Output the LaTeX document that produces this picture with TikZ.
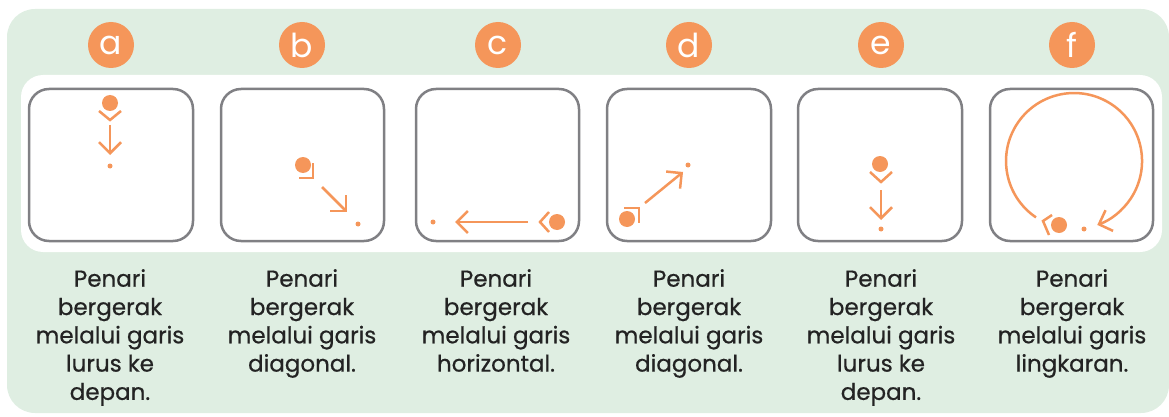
\documentclass[tikz,border=0pt]{standalone}
\usepackage{fontspec}
\setmainfont{Poppins}
\newfontfamily\capfont[FakeBold=0.6]{Poppins}
\usetikzlibrary{arrows.meta}
\definecolor{panelgreen}{RGB}{223,238,226}
\definecolor{dorange}{RGB}{245,150,90}
\definecolor{boxgray}{RGB}{128,128,132}
\definecolor{txt}{RGB}{35,35,35}
\tikzset{
  stepbox/.style={draw=boxgray,line width=2.5pt,rounded corners=20pt,fill=white},
  lab/.style={circle,fill=dorange,text=white,minimum size=46pt,inner sep=0pt,font=\fontsize{33}{33}\selectfont},
  dancer/.style={circle,fill=dorange,minimum size=16pt,inner sep=0pt},
  enddot/.style={circle,fill=dorange,minimum size=5pt,inner sep=0pt},
  chev/.style={draw=dorange,line width=2.5pt},
  move/.style={draw=dorange,line width=2.5pt,-{Straight Barb[length=11pt,width=22pt]}},
  captxt/.style={anchor=north,align=center,text=txt,inner sep=0pt,font=\capfont\fontsize{23}{28.3}\selectfont}
}
\begin{document}
\begin{tikzpicture}[x=1pt,y=-1pt]
\useasboundingbox (0,0) rectangle (1169,417);
\fill[panelgreen,rounded corners=28pt] (7,9) rectangle (1169,413);
\fill[white,rounded corners=22pt] (21,75) rectangle (1162,252);
% boxes
\draw[stepbox] (29,89) rectangle (193,241);
\draw[stepbox] (221,89) rectangle (384,241);
\draw[stepbox] (416,89) rectangle (579,241);
\draw[stepbox] (607,89) rectangle (771,241);
\draw[stepbox] (798,89) rectangle (962,241);
\draw[stepbox] (990,89) rectangle (1153,241);
% labels
\node[lab] (la) at (111,45) {a};
\node[lab] (lb) at (302,45) {b};
\node[lab] (lc) at (498,45) {c};
\node[lab] (ld) at (689,45) {d};
\node[lab] (le) at (881,45) {e};
\node[lab] (lf) at (1072,45) {f};
% a
\node[dancer] (da) at (110,103) {};
\draw[chev] (99,111) -- (110,120) -- (121,111);
\coordinate (a1) at (110,125); \coordinate (a2) at (110,155);
\draw[move] (a1) -- (a2);
\node[enddot] (ea) at (110,166) {};
% b
\node[dancer] (db) at (303,165) {};
\draw[chev] (313,163) -- (313,178) -- (299,178);
\coordinate (b1) at (322,187); \coordinate (b2) at (347,212);
\draw[move] (b1) -- (b2);
\node[enddot] (eb) at (358,224) {};
% c
\node[dancer] (dc) at (557,222) {};
\draw[chev] (549,212) -- (540,222) -- (549,232);
\coordinate (c1) at (528,222); \coordinate (c2) at (455,222);
\draw[move] (c1) -- (c2);
\node[enddot] (ec) at (433,222) {};
% d
\node[dancer] (dd) at (627,219) {};
\draw[chev] (624,208) -- (639,208) -- (639,223);
\coordinate (d1) at (645,203); \coordinate (d2) at (683,172);
\draw[move] (d1) -- (d2);
\node[enddot] (ed) at (688,165) {};
% e
\node[dancer] (de) at (880,164) {};
\draw[chev] (870,172) -- (881,182) -- (892,172);
\coordinate (e1) at (881,190); \coordinate (e2) at (881,220);
\draw[move] (e1) -- (e2);
\node[enddot] (ee) at (881,229) {};
% f
\node[dancer] (df) at (1059,225) {};
\draw[chev] (1052,215) -- (1043,221) -- (1049,235);
\coordinate (f1) at (1036,217.4);
\draw[move] (f1) arc[start angle=124,end angle=430,radius=68];
\node[enddot] (ef) at (1084,229) {};
% captions
\node[captxt] (ta) at (110,269) {Penari\\bergerak\\melalui garis\\lurus ke\\depan.};
\node[captxt] (tb) at (302,269) {Penari\\bergerak\\melalui garis\\diagonal.};
\node[captxt] (tc) at (496,269) {Penari\\bergerak\\melalui garis\\horizontal.};
\node[captxt] (td) at (689,269) {Penari\\bergerak\\melalui garis\\diagonal.};
\node[captxt] (te) at (881,269) {Penari\\bergerak\\melalui garis\\lurus ke\\depan.};
\node[captxt] (tf) at (1072,269) {Penari\\bergerak\\melalui garis\\lingkaran.};
\end{tikzpicture}
\end{document}
